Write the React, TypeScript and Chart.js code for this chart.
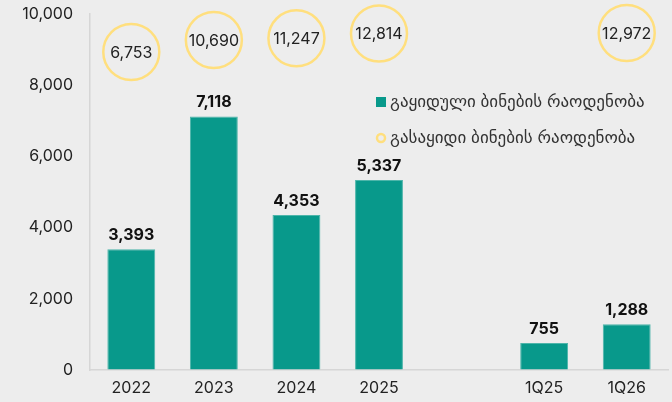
import React, { useEffect, useRef } from "react";
import { Chart, registerables } from "chart.js";

Chart.register(...registerables);

const categories = ["2022", "2023", "2024", "2025", "", "1Q25", "1Q26"];
const soldUnits = [3393, 7118, 4353, 5337, null, 755, 1288];
const forSaleUnits = [6753, 10690, 11247, 12814, null, null, 12972];
const yTicks = [0, 2000, 4000, 6000, 8000, 10000];
const soldLabel = "გაყიდული ბინების რაოდენობა";
const forSaleLabel = "გასაყიდი ბინების რაოდენობა";

const TEAL = "#08998B";
const YELLOW = "#FFDF7E";
const BG = "#EDEDED";
const FONT = "Inter, 'DejaVu Sans', sans-serif";

const fmt = (v: number) => v.toLocaleString("en-US");

const labelPlugin = {
  id: "valueLabels",
  afterDatasetsDraw(chart: any) {
    const ctx = chart.ctx;
    ctx.save();
    ctx.textAlign = "center";
    ctx.textBaseline = "middle";
    const barMeta = chart.getDatasetMeta(0);
    ctx.fillStyle = "#111";
    ctx.font = `bold 16px ${FONT}`;
    barMeta.data.forEach((el: any, i: number) => {
      const v = soldUnits[i];
      if (v == null) return;
      ctx.fillText(fmt(v), el.x, el.y - 14);
    });
    const ptMeta = chart.getDatasetMeta(1);
    ctx.fillStyle = "#222";
    ctx.font = `16px ${FONT}`;
    ptMeta.data.forEach((el: any, i: number) => {
      const v = forSaleUnits[i];
      if (v == null) return;
      ctx.fillText(fmt(v), el.x, el.y + 1);
    });
    ctx.restore();
  },
};

const legendPlugin = {
  id: "customLegend",
  afterDraw(chart: any) {
    const ctx = chart.ctx;
    ctx.save();
    ctx.textBaseline = "middle";
    ctx.textAlign = "left";
    ctx.font = `17px ${FONT}`;
    ctx.fillStyle = TEAL;
    ctx.fillRect(376, 97, 10, 10);
    ctx.fillStyle = "#333";
    ctx.fillText(soldLabel, 390, 102);
    ctx.beginPath();
    ctx.arc(381, 138, 4, 0, Math.PI * 2);
    ctx.strokeStyle = YELLOW;
    ctx.lineWidth = 2.5;
    ctx.stroke();
    ctx.fillStyle = "#333";
    ctx.fillText(forSaleLabel, 390, 138);
    ctx.restore();
  },
};

export default function App() {
  const ref = useRef<HTMLCanvasElement | null>(null);
  useEffect(() => {
    if (!ref.current) return;
    const chart = new Chart(ref.current, {
      type: "bar",
      data: {
        labels: categories,
        datasets: [
          {
            type: "bar",
            label: soldLabel,
            data: soldUnits as any,
            backgroundColor: TEAL,
            borderColor: "#4DB5AA",
            borderWidth: 1,
            barPercentage: 0.58,
            categoryPercentage: 1,
            yAxisID: "y",
          },
          {
            type: "line",
            label: forSaleLabel,
            data: forSaleUnits as any,
            showLine: false,
            clip: false,
            pointRadius: 28,
            pointHoverRadius: 28,
            pointBorderWidth: 2.5,
            pointBorderColor: YELLOW,
            pointBackgroundColor: "rgba(0,0,0,0)",
            yAxisID: "y2",
          } as any,
        ],
      },
      options: {
        animation: false,
        responsive: false,
        maintainAspectRatio: false,
        layout: { autoPadding: false, padding: { top: 0, right: 4, left: 0, bottom: 0 } },
        plugins: {
          legend: { display: false },
          tooltip: { enabled: false },
        },
        scales: {
          x: {
            grid: { display: true, color: "rgba(0,0,0,0)", drawTicks: false },
            border: { display: true, color: "#D6D6D6", width: 1.5 },
            ticks: { color: "#222", font: { family: FONT, size: 16 }, padding: 9 },
            afterFit(scale: any) {
              scale.height = 32;
              scale.paddingLeft = 0;
              scale.paddingRight = 0;
            },
          },
          y: {
            min: 0,
            max: 10000,
            afterBuildTicks(scale: any) {
              scale.ticks = yTicks.map((v) => ({ value: v }));
            },
            grid: { display: true, color: "rgba(0,0,0,0)", drawTicks: false },
            border: { display: true, color: "#D6D6D6", width: 1.5 },
            ticks: {
              color: "#222",
              font: { family: FONT, size: 16 },
              padding: 17,
              callback: (v: any) => fmt(Number(v)),
            },
            afterFit(scale: any) {
              scale.width = 90;
              scale.paddingTop = 14;
              scale.paddingBottom = 0;
            },
          },
          y2: {
            display: false,
            min: -97300,
            max: 19200,
          },
        },
      },
      plugins: [labelPlugin, legendPlugin],
    });
    return () => chart.destroy();
  }, []);
  return (
    <div style={{ position: "absolute", left: 0, top: 0, width: 672, height: 402, background: BG }}>
      <canvas ref={ref} width={672} height={402} style={{ display: "block" }} />
    </div>
  );
}
